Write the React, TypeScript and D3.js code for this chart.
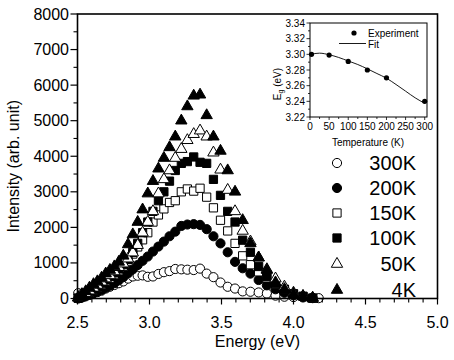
import * as d3 from "d3";

// photon energy (eV) of each sample point, shared by all spectra
const energy = [
  2.505, 2.531, 2.557, 2.583, 2.611, 2.638, 2.667, 2.696, 2.725, 2.756,
  2.787, 2.818, 2.851, 2.884, 2.918, 2.952, 2.988, 3.024, 3.062, 3.1,
  3.139, 3.179, 3.221, 3.263, 3.307, 3.351, 3.397, 3.444, 3.493, 3.543,
  3.594, 3.647, 3.701, 3.758, 3.815, 3.875, 3.937, 4.0, 4.066, 4.133, 4.175,
];

const int300K = [
  150, 130, 110, 120, 150, 180, 220, 280, 330, 380,
  430, 480, 560, 620, 640, 650, 610, 620, 690, 740,
  770, 830, 820, 810, 800, 840, 700, 600, 450, 330,
  280, 200, 190, 170, 140, 80, 50, 40, 30, 20, 10,
];
const int200K = [
  0, 30, 60, 100, 140, 190, 240, 300, 360, 430,
  510, 600, 710, 820, 940, 1060, 1180, 1320, 1460, 1600,
  1750, 1880, 2040, 2080, 2090, 2070, 1950, 1750, 1550, 1300,
  1030, 850, 700, 520, 370, 260, 160, 90, 40, 10, null,
];
const int150K = [
  10, 50, 110, 170, 240, 310, 390, 480, 570, 670,
  780, 900, 1050, 1250, 1450, 1650, 1850, 2150, 2350, 2520,
  2700, 2750, 3000, 3080, 3020, 3100, 2850, 2550, 2200, 1900,
  1550, 1200, 950, 750, 580, 400, 250, 130, 60, 10, null,
];
const int100K = [
  10, 60, 120, 190, 260, 340, 430, 520, 620, 720,
  830, 950, 1100, 1300, 1550, 1850, 2150, 2450, 2750, 3000,
  3300, 3600, 3800, 3850, 3980, 3830, 3800, 3350, 2900, 2450,
  2150, 1640, 1300, 900, 620, 420, 260, 130, 60, 10, null,
];
const int50K = [
  20, 80, 150, 220, 300, 380, 470, 560, 650, 760,
  880, 980, 1120, 1290, 1500, 1850, 2150, 2450, 2950, 3350,
  3600, 3950, 4200, 4450, 4620, 4720, 4550, 4100, 3620, 3050,
  2450, 1900, 1600, 1150, 820, 560, 330, 160, 70, 10, null,
];
const int4K = [
  30, 120, 200, 300, 400, 480, 580, 700, 800, 900,
  1030, 1200, 1520, 1800, 2150, 2500, 2950, 3300, 3650, 3950,
  4250, 4550, 5000, 5400, 5700, 5730, 5150, 4550, 4150, 3600,
  3000, 2200, 1550, 1150, 800, 450, 260, 130, 60, 20, null,
];

const seriesNames = ["300K", "200K", "150K", "100K", "50K", "4K"];
const seriesValues = [int300K, int200K, int150K, int100K, int50K, int4K];
const seriesShape = ["circle", "circle", "square", "square", "triangle", "triangle"];
const seriesFilled = [false, true, false, true, false, true];

const xTicks = [2.5, 3.0, 3.5, 4.0, 4.5, 5.0];
const yTicks = [0, 1000, 2000, 3000, 4000, 5000, 6000, 7000, 8000];

// inset: band gap vs temperature
const expTemp = [4, 50, 100, 150, 200, 300];
const expEg = [3.3, 3.299, 3.291, 3.28, 3.27, 3.24];
const fitTemp = [0, 25, 50, 75, 100, 125, 150, 175, 200, 225, 250, 275, 300];
const fitEg = [3.3, 3.3015, 3.2995, 3.296, 3.2915, 3.287, 3.2815, 3.2755, 3.2695, 3.2615, 3.253, 3.2445, 3.2375];
const insetXTicks = [0, 50, 100, 150, 200, 250, 300];
const insetYTicks = [3.22, 3.24, 3.26, 3.28, 3.3, 3.32, 3.34];

const font = "'Liberation Sans', Arial, Helvetica, sans-serif";

const symbolPath = (shape: string) => {
  const type =
    shape === "circle" ? d3.symbolCircle : shape === "square" ? d3.symbolSquare : d3.symbolTriangle;
  const size = shape === "circle" ? 66 : shape === "square" ? 68 : 56;
  return d3.symbol().type(type).size(size)() as string;
};

const App = () => {
  const W = 454;
  const H = 360;
  const m = { left: 77.5, right: 437.5, top: 14, bottom: 298.5 };

  const x = d3.scaleLinear().domain([2.5, 5.0]).range([m.left, m.right]);
  const y = d3.scaleLinear().domain([0, 8000]).range([m.bottom, m.top]);

  const xMinor = d3.range(25, 51).map((d) => d / 10).filter((d) => !xTicks.includes(d));
  const yMinor = d3.range(500, 8000, 1000);

  // inset scales
  const ix = d3.scaleLinear().domain([0, 306]).range([310, 427]);
  const iy = d3.scaleLinear().domain([3.22, 3.34]).range([117, 23]);
  const fitLine = d3
    .line<number>()
    .x((_, i) => ix(fitTemp[i]))
    .y((d) => iy(d))
    .curve(d3.curveMonotoneX);
  const insetXMinor = d3.range(25, 300, 50);
  const insetYMinor = d3.range(3.23, 3.34, 0.02);

  const legendX = 337;
  const legendY = [163, 188, 213, 238, 264, 290];

  return (
    <svg
      width={W}
      height={H}
      style={{ position: "absolute", left: 0, top: 0, background: "#fff" }}
      fontFamily={font}
    >
      {/* data */}
      {seriesValues.map((vals, si) => {
        const p = symbolPath(seriesShape[si]);
        return (
          <g key={seriesNames[si]}>
            {vals.map((v, i) =>
              v == null ? null : (
                <path
                  key={i}
                  d={p}
                  transform={`translate(${x(energy[i])},${y(v)})`}
                  fill={seriesFilled[si] ? "#000" : "#fff"}
                  stroke="#000"
                  strokeWidth={1}
                />
              )
            )}
          </g>
        );
      })}

      {/* main frame */}
      <rect
        x={m.left}
        y={m.top}
        width={m.right - m.left}
        height={m.bottom - m.top}
        fill="none"
        stroke="#000"
        strokeWidth={1.6}
      />

      {/* x axis */}
      {xTicks.map((t) => (
        <g key={t}>
          <line x1={x(t)} x2={x(t)} y1={m.bottom} y2={m.bottom + 6} stroke="#000" strokeWidth={1.2} />
          <text x={x(t)} y={328} fontSize={16} textAnchor="middle">
            {t.toFixed(1)}
          </text>
        </g>
      ))}
      {xMinor.map((t) => (
        <line key={t} x1={x(t)} x2={x(t)} y1={m.bottom} y2={m.bottom + 4} stroke="#000" strokeWidth={1.1} />
      ))}
      <text x={(m.left + m.right) / 2} y={347} fontSize={16} textAnchor="middle">
        Energy (eV)
      </text>

      {/* y axis */}
      {yTicks.map((t) => (
        <g key={t}>
          <line x1={m.left - 7} x2={m.left} y1={y(t)} y2={y(t)} stroke="#000" strokeWidth={1.2} />
          <text x={69} y={y(t) + 5.5} fontSize={16} textAnchor="end">
            {t}
          </text>
        </g>
      ))}
      {yMinor.map((t) => (
        <line key={t} x1={m.left - 4} x2={m.left} y1={y(t)} y2={y(t)} stroke="#000" strokeWidth={1.1} />
      ))}
      <text
        transform={`translate(19,${(m.top + m.bottom) / 2 + 10}) rotate(-90)`}
        fontSize={16}
        textAnchor="middle"
      >
        Intensity (arb. unit)
      </text>

      {/* legend */}
      {seriesNames.map((name, si) => (
        <g key={name}>
          <path
            d={symbolPath(seriesShape[si])}
            transform={`translate(${legendX},${legendY[si]})`}
            fill={seriesFilled[si] ? "#000" : "#fff"}
            stroke="#000"
            strokeWidth={1}
          />
          <text x={416} y={legendY[si] + 7} fontSize={20} textAnchor="end">
            {name}
          </text>
        </g>
      ))}

      {/* inset */}
      <rect x={310} y={23} width={117} height={94} fill="#fff" stroke="#000" strokeWidth={1} />
      {insetYTicks.map((t) => (
        <g key={t}>
          <line x1={306.5} x2={310} y1={iy(t)} y2={iy(t)} stroke="#000" strokeWidth={0.8} />
          <text x={305} y={iy(t) + 3.5} fontSize={10} textAnchor="end">
            {t.toFixed(2)}
          </text>
        </g>
      ))}
      {insetYMinor.map((t) => (
        <line key={t} x1={308} x2={310} y1={iy(t)} y2={iy(t)} stroke="#000" strokeWidth={0.8} />
      ))}
      {insetXTicks.map((t) => (
        <g key={t}>
          <line x1={ix(t)} x2={ix(t)} y1={117} y2={120} stroke="#000" strokeWidth={0.8} />
          <text x={ix(t)} y={129.5} fontSize={10} textAnchor="middle">
            {t}
          </text>
        </g>
      ))}
      {insetXMinor.map((t) => (
        <line key={t} x1={ix(t)} x2={ix(t)} y1={117} y2={119} stroke="#000" strokeWidth={0.8} />
      ))}
      <text x={368} y={146} fontSize={10} textAnchor="middle">
        Temperature (K)
      </text>
      <text transform={`translate(281,84) rotate(-90)`} fontSize={10} textAnchor="middle">
        E<tspan fontSize={7} dy={2}>g</tspan>
        <tspan dy={-2}> (eV)</tspan>
      </text>
      <path d={fitLine(fitEg) as string} fill="none" stroke="#000" strokeWidth={0.9} />
      {expEg.map((v, i) => (
        <circle key={i} cx={ix(expTemp[i])} cy={iy(v)} r={2.6} fill="#000" />
      ))}
      <circle cx={354} cy={33} r={2.6} fill="#000" />
      <text x={368} y={37} fontSize={10}>
        Experiment
      </text>
      <line x1={339} x2={366} y1={43.5} y2={43.5} stroke="#000" strokeWidth={0.9} />
      <text x={368} y={47.5} fontSize={10}>
        Fit
      </text>
    </svg>
  );
};

export default App;
